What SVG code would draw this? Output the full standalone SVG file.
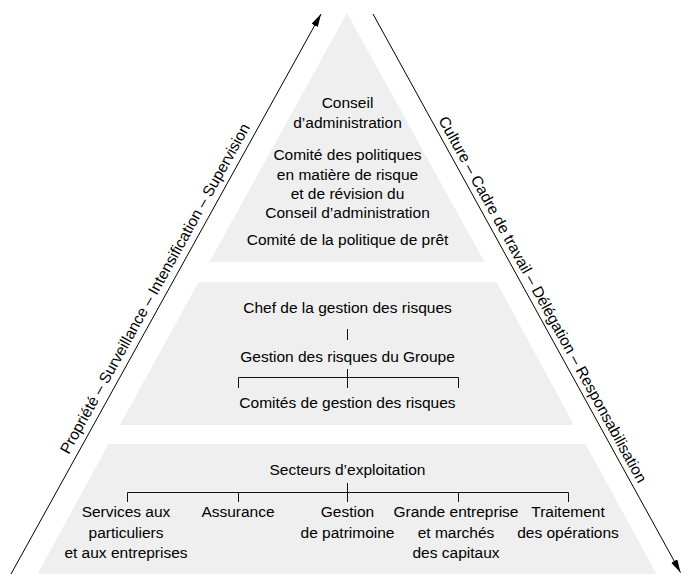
<svg xmlns="http://www.w3.org/2000/svg" width="686" height="574" viewBox="0 0 686 574">
<defs>
<style>
.band{fill:#efefef;stroke:none}
.t{font-family:"Liberation Sans",Arial,sans-serif;font-size:15.5px;fill:#000;text-anchor:middle}
.ln{stroke:#111;stroke-width:1;fill:none}
.ax{stroke:#000;stroke-width:1;fill:none}
</style>
<marker id="ah" markerUnits="userSpaceOnUse" markerWidth="14" markerHeight="8" refX="13" refY="3.5" orient="auto">
<path d="M0,0 L13,3.5 L0,7 z" fill="#000"/>
</marker>
</defs>
<rect width="686" height="574" fill="#fff"/>
<g id="bands">
<polygon class="band" points="347,13 484.5,262 209.5,262"/>
<polygon class="band" points="198.5,282 496.5,282 574,425 120,425"/>
<polygon class="band" points="108.5,444 585.5,444 656.5,574 37.5,574"/>
</g>
<g id="connectors">
<line class="ax" x1="11" y1="574" x2="321" y2="14" marker-end="url(#ah)"/>
<line class="ax" x1="373" y1="14" x2="680.5" y2="572.5" marker-end="url(#ah)"/>
<line class="ln" x1="347.5" y1="329" x2="347.5" y2="340"/>
<line class="ln" x1="347.5" y1="369" x2="347.5" y2="388"/>
<path class="ln" d="M238.5,388 V377.5 H458.5 V388"/>
<line class="ln" x1="347.5" y1="483" x2="347.5" y2="502"/>
<path class="ln" d="M127.5,502 V492.5 H568.5 V502"/>
<line class="ln" x1="238.5" y1="492.5" x2="238.5" y2="502"/>
<line class="ln" x1="458.5" y1="492.5" x2="458.5" y2="502"/>
</g>
<g id="label-left">
<text class="t" transform="translate(159.5,291) rotate(-61)">Propriété – Surveillance – Intensification – Supervision</text>
</g>
<g id="label-right">
<text class="t" transform="translate(538,302) rotate(61.2)">Culture – Cadre de travail – Délégation – Responsabilisation</text>
</g>
<g id="conseil">
<text class="t" x="347.5" y="107.5">Conseil</text>
<text class="t" x="347.5" y="127.5">d’administration</text>
</g>
<g id="comite-politiques-risque">
<text class="t" x="347.5" y="160">Comité des politiques</text>
<text class="t" x="347.5" y="179.5">en matière de risque</text>
<text class="t" x="347.5" y="198.5">et de révision du</text>
<text class="t" x="347.5" y="218">Conseil d’administration</text>
</g>
<g id="comite-pret">
<text class="t" x="347.5" y="245">Comité de la politique de prêt</text>
</g>
<g id="chef-risques">
<text class="t" x="347.5" y="313">Chef de la gestion des risques</text>
</g>
<g id="gestion-groupe">
<text class="t" x="347.5" y="361.5">Gestion des risques du Groupe</text>
</g>
<g id="comites-gestion">
<text class="t" x="347.5" y="408">Comités de gestion des risques</text>
</g>
<g id="secteurs">
<text class="t" x="347.5" y="475">Secteurs d’exploitation</text>
</g>
<g id="services">
<text class="t" x="126" y="517">Services aux</text>
<text class="t" x="126" y="537.5">particuliers</text>
<text class="t" x="126" y="558">et aux entreprises</text>
</g>
<g id="assurance">
<text class="t" x="238" y="517">Assurance</text>
</g>
<g id="patrimoine">
<text class="t" x="347.5" y="517">Gestion</text>
<text class="t" x="347.5" y="537.5">de patrimoine</text>
</g>
<g id="grande-entreprise">
<text class="t" x="456" y="517">Grande entreprise</text>
<text class="t" x="456" y="537.5">et marchés</text>
<text class="t" x="456" y="558">des capitaux</text>
</g>
<g id="traitement">
<text class="t" x="568" y="517">Traitement</text>
<text class="t" x="568" y="537.5">des opérations</text>
</g>
</svg>
